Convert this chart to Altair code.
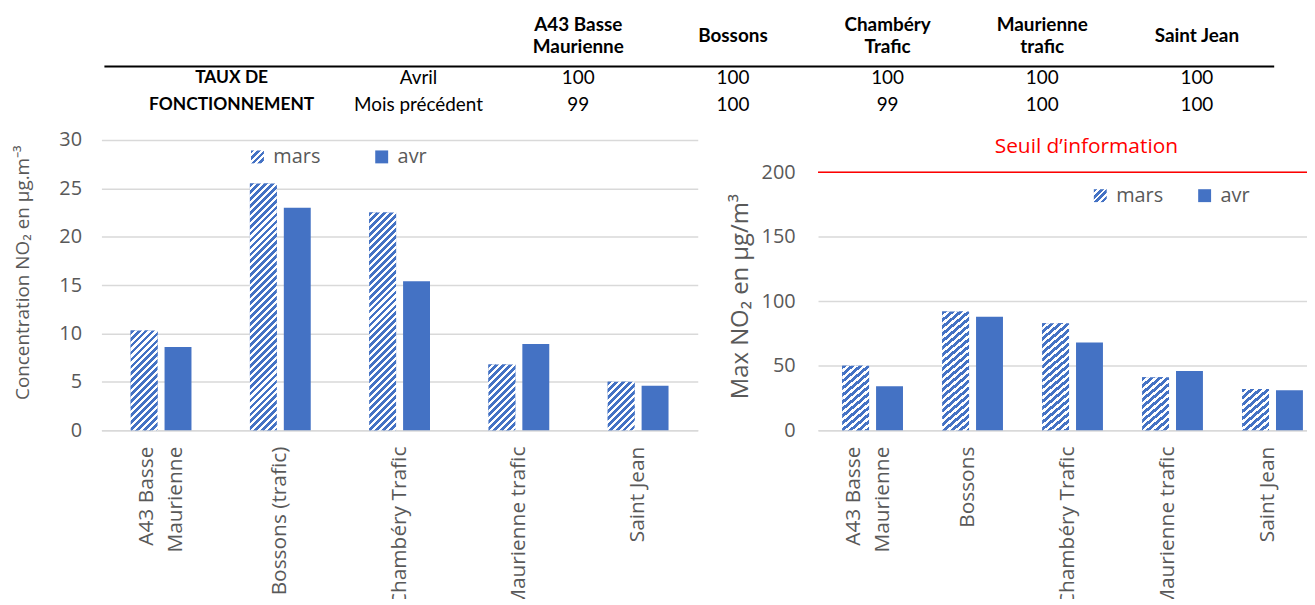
import json
import altair as alt

BLUE = "#4472C4"
GREY = "#595959"
GRID = "#D9D9D9"
FONT = "Open Sans"
TFONT = "Lato"

# ---------------- data ----------------
months = ["mars", "avr"]

left_stations = ["A43 Basse Maurienne", "Bossons (trafic)", "Chambéry Trafic",
                 "Maurienne trafic", "Saint Jean"]
left_mars = [10.3, 25.5, 22.5, 6.8, 5.0]
left_avr = [8.6, 23.0, 15.4, 8.9, 4.6]

right_stations = ["A43 Basse Maurienne", "Bossons", "Chambéry Trafic",
                  "Maurienne trafic", "Saint Jean"]
right_mars = [50, 92, 83, 41, 32]
right_avr = [34, 88, 68, 46, 31]
seuil_information = 200

table_columns = ["A43 Basse\nMaurienne", "Bossons", "Chambéry\nTrafic",
                 "Maurienne\ntrafic", "Saint Jean"]
taux_avril = [100, 100, 100, 100, 100]
taux_precedent = [99, 100, 99, 100, 100]
table_rows = ["Avril", "Mois précédent"]
table_group = ["TAUX DE", "FONCTIONNEMENT"]

left_ticks = [0, 5, 10, 15, 20, 25, 30]
right_ticks = [0, 50, 100, 150, 200]

# ---------------- layout constants ----------------
PAD_L = 5
ORIGIN_X = 100          # page x of the left plot (table shares this origin)
LEFT_W, LEFT_H, LEFT_MAX = 600, 292, 30
RIGHT_W, RIGHT_H, RIGHT_MAX = 503, 292, 225


def stripes(w, h, period=7.0, frac=0.55):
    """diagonal hatch fill as a hard-stop linear gradient (bbox units)"""
    L = w + h
    a = L * w / (w * w + h * h)
    b = L * h / (w * w + h * h)
    step = period / L
    stops = []
    t = 0.0
    while t < 1.0:
        tb = min(t + step * frac, 1.0)
        te = min(t + step, 1.0)
        stops += [
            {"offset": round(t, 5), "color": BLUE},
            {"offset": round(tb, 5), "color": BLUE},
            {"offset": round(tb, 5), "color": "#FFFFFF"},
            {"offset": round(te, 5), "color": "#FFFFFF"},
        ]
        t += step
    return {"gradient": "linear", "x1": 0, "y1": 0, "x2": a, "y2": b, "stops": stops}


LEGEND_GRAD = stripes(13, 13, period=6.5)


def bar_panel(stations, mars, avr, width, height, ymax, ticks, title, title_size,
              title_pad, title_y, label_pad, pin, off_pin, lx, ly, col_pad,
              leg_mode, off_mode):
    group_w = width / len(stations) * (1 - pin)
    bw = group_w / (2 - off_pin) * (1 - off_pin)
    recs = []
    for s, m, a in zip(stations, mars, avr):
        recs.append({"station": s, "month": "mars", "value": m,
                     "grad": stripes(bw, m * height / ymax)})
        recs.append({"station": s, "month": "avr", "value": a})
    data = alt.Data(values=recs)

    xaxis = dict(title=None, labelAngle=-90, labelPadding=16, ticks=False,
                 domainColor=GRID, domainWidth=1.5, grid=False,
                 labelFont=FONT, labelFontSize=21, labelColor=GREY,
                 labelLimit=600, labelLineHeight=29,
                 labelExpr="datum.label == 'A43 Basse Maurienne' ? ['A43 Basse', 'Maurienne'] : datum.label")
    if off_mode:
        xaxis["labelOffset"] = {"condition": {"test": "datum.value == 'A43 Basse Maurienne'",
                                              "value": -14}, "value": 0}
    x = alt.X("station:N",
              scale=alt.Scale(domain=stations, paddingInner=pin, paddingOuter=pin / 2),
              axis=alt.Axis(**xaxis))
    xo = alt.XOffset("month:N",
                     scale=alt.Scale(domain=months, paddingInner=off_pin, paddingOuter=0))
    y = alt.Y("value:Q", scale=alt.Scale(domain=[0, ymax], nice=False),
              axis=alt.Axis(values=ticks, title=title, titleFont=FONT,
                            titleFontSize=title_size, titleFontWeight="normal",
                            titleColor=GREY, titlePadding=title_pad, titleY=title_y,
                            labelPadding=label_pad, ticks=False, domain=False,
                            grid=True, gridColor=GRID, gridWidth=1.5,
                            labelFont=FONT, labelFontSize=20, labelColor=GREY))
    legend = alt.Legend(orient="none", legendX=lx, legendY=ly, direction="horizontal",
                        title=None, symbolType="square", symbolSize=169,
                        symbolStrokeWidth=0, labelFont=FONT, labelFontSize=20,
                        labelColor=GREY, labelOffset=6, columnPadding=col_pad, padding=0)
    if leg_mode:
        crange = [{"expr": json.dumps(LEGEND_GRAD)}, BLUE]
    else:
        crange = [BLUE, BLUE]
    base = alt.Chart(data).mark_bar().encode(
        x=x, xOffset=xo, y=y,
        color=alt.Color("month:N", scale=alt.Scale(domain=months, range=crange),
                        legend=legend))
    hatch = alt.Chart(data).transform_filter("datum.month === 'mars'").mark_bar().encode(
        x=x, xOffset=xo, y=y, fill=alt.Fill("grad:N", scale=None, legend=None))
    return base, hatch


def build(leg_mode, off_mode):
    # ---------- table (its origin is aligned with the left plot) ----------
    off = ORIGIN_X
    tw = 1280 - off
    st_scale = alt.Scale(domain=table_columns, range=[502 - off, 1280 - off],
                         paddingInner=0, paddingOuter=0)
    lab_scale = alt.Scale(domain=["groupe", "mois"], range=[137 - off, 513 - off],
                          paddingInner=0, paddingOuter=0)
    row_scale = alt.Scale(domain=table_rows, range=[55, 109],
                          paddingInner=0, paddingOuter=0)
    head_scale = alt.Scale(domain=["h1", "h2"], range=[4, 48],
                           paddingInner=0, paddingOuter=0)

    head2 = []
    head1 = []
    for c in table_columns:
        parts = c.split("\n")
        if len(parts) == 2:
            head2.append({"col": c, "row": "h1", "txt": parts[0]})
            head2.append({"col": c, "row": "h2", "txt": parts[1]})
        else:
            head1.append({"col": c, "row": "h1", "txt": c})
    val_recs = ([{"col": c, "row": table_rows[0], "txt": str(v)} for c, v in zip(table_columns, taux_avril)] +
                [{"col": c, "row": table_rows[1], "txt": str(v)} for c, v in zip(table_columns, taux_precedent)])
    grp_recs = [{"col": "groupe", "row": r, "txt": g} for r, g in zip(table_rows, table_group)]
    mois_recs = [{"col": "mois", "row": r, "txt": r} for r in table_rows]

    def txt_layer(recs, xscale, yscale, size, weight="normal", dy=0):
        return alt.Chart(alt.Data(values=recs)).mark_text(
            font=TFONT, fontSize=size, fontWeight=weight, color="black",
            baseline="middle", dy=dy).encode(
            x=alt.X("col:N", scale=xscale, axis=None),
            y=alt.Y("row:N", scale=yscale, axis=None),
            text="txt:N")

    header2 = txt_layer(head2, st_scale, head_scale, 19, "bold")
    header1 = txt_layer(head1, st_scale, head_scale, 19, "bold", dy=11)
    vals = txt_layer(val_recs, st_scale, row_scale, 19)
    grp = txt_layer(grp_recs, lab_scale, row_scale, 17.5, "bold")
    mois = txt_layer(mois_recs, lab_scale, row_scale, 19)
    rule = alt.Chart(alt.Data(values=[{}])).mark_rule(color="black", strokeWidth=2).encode(
        x=alt.value(103 - off), x2=alt.value(1280 - off), y=alt.value(65 - 8))
    table = alt.layer(header2, header1, vals, grp, mois, rule).resolve_scale(
        x="independent", y="independent").properties(width=tw, height=106)

    # ---------- left panel ----------
    lb, lh = bar_panel(left_stations, left_mars, left_avr, LEFT_W, LEFT_H, LEFT_MAX,
                       left_ticks, "Concentration NO₂ en µg.m⁻³", 19, 27, 133, 20,
                       0.49, 0.206, 147, 7, 51, leg_mode, off_mode)
    left = alt.layer(lb, lh).properties(width=LEFT_W, height=LEFT_H)

    # ---------- right panel ----------
    rb, rh = bar_panel(right_stations, right_mars, right_avr, RIGHT_W, RIGHT_H, RIGHT_MAX,
                       right_ticks, "Max NO₂ en µg/m³", 24, 9, 157, 23,
                       0.483, 0.207, 274, 46, 31, leg_mode, off_mode)
    red = alt.Chart(alt.Data(values=[{"seuil": seuil_information}])).mark_rule(
        color="#FF0000", strokeWidth=1.5).encode(y="seuil:Q")
    red_txt = alt.Chart(alt.Data(values=[{"seuil": seuil_information, "lbl": "Seuil d’information"}])).mark_text(
        color="#FF0000", font=FONT, fontSize=21, dy=-25, baseline="middle").encode(
        x=alt.value(270), y="seuil:Q", text="lbl:N")
    right = alt.layer(rb, rh, red, red_txt).properties(width=RIGHT_W, height=RIGHT_H)

    bottom = alt.hconcat(left, right, spacing=30).resolve_scale(
        color="independent").resolve_legend(color="independent")
    ch = alt.vconcat(table, bottom, spacing=15).properties(
        padding={"left": PAD_L, "top": 0, "right": -12, "bottom": -11}
    ).configure(font=FONT).configure_view(stroke=None)
    return ch


chart = None
for lm, om in ((1, 1), (1, 0), (0, 1), (0, 0)):
    try:
        c = build(lm, om)
        c.to_dict()
        chart = c
        break
    except Exception:
        continue

chart.save("out.html", embed_options={"renderer": "svg", "actions": False})
